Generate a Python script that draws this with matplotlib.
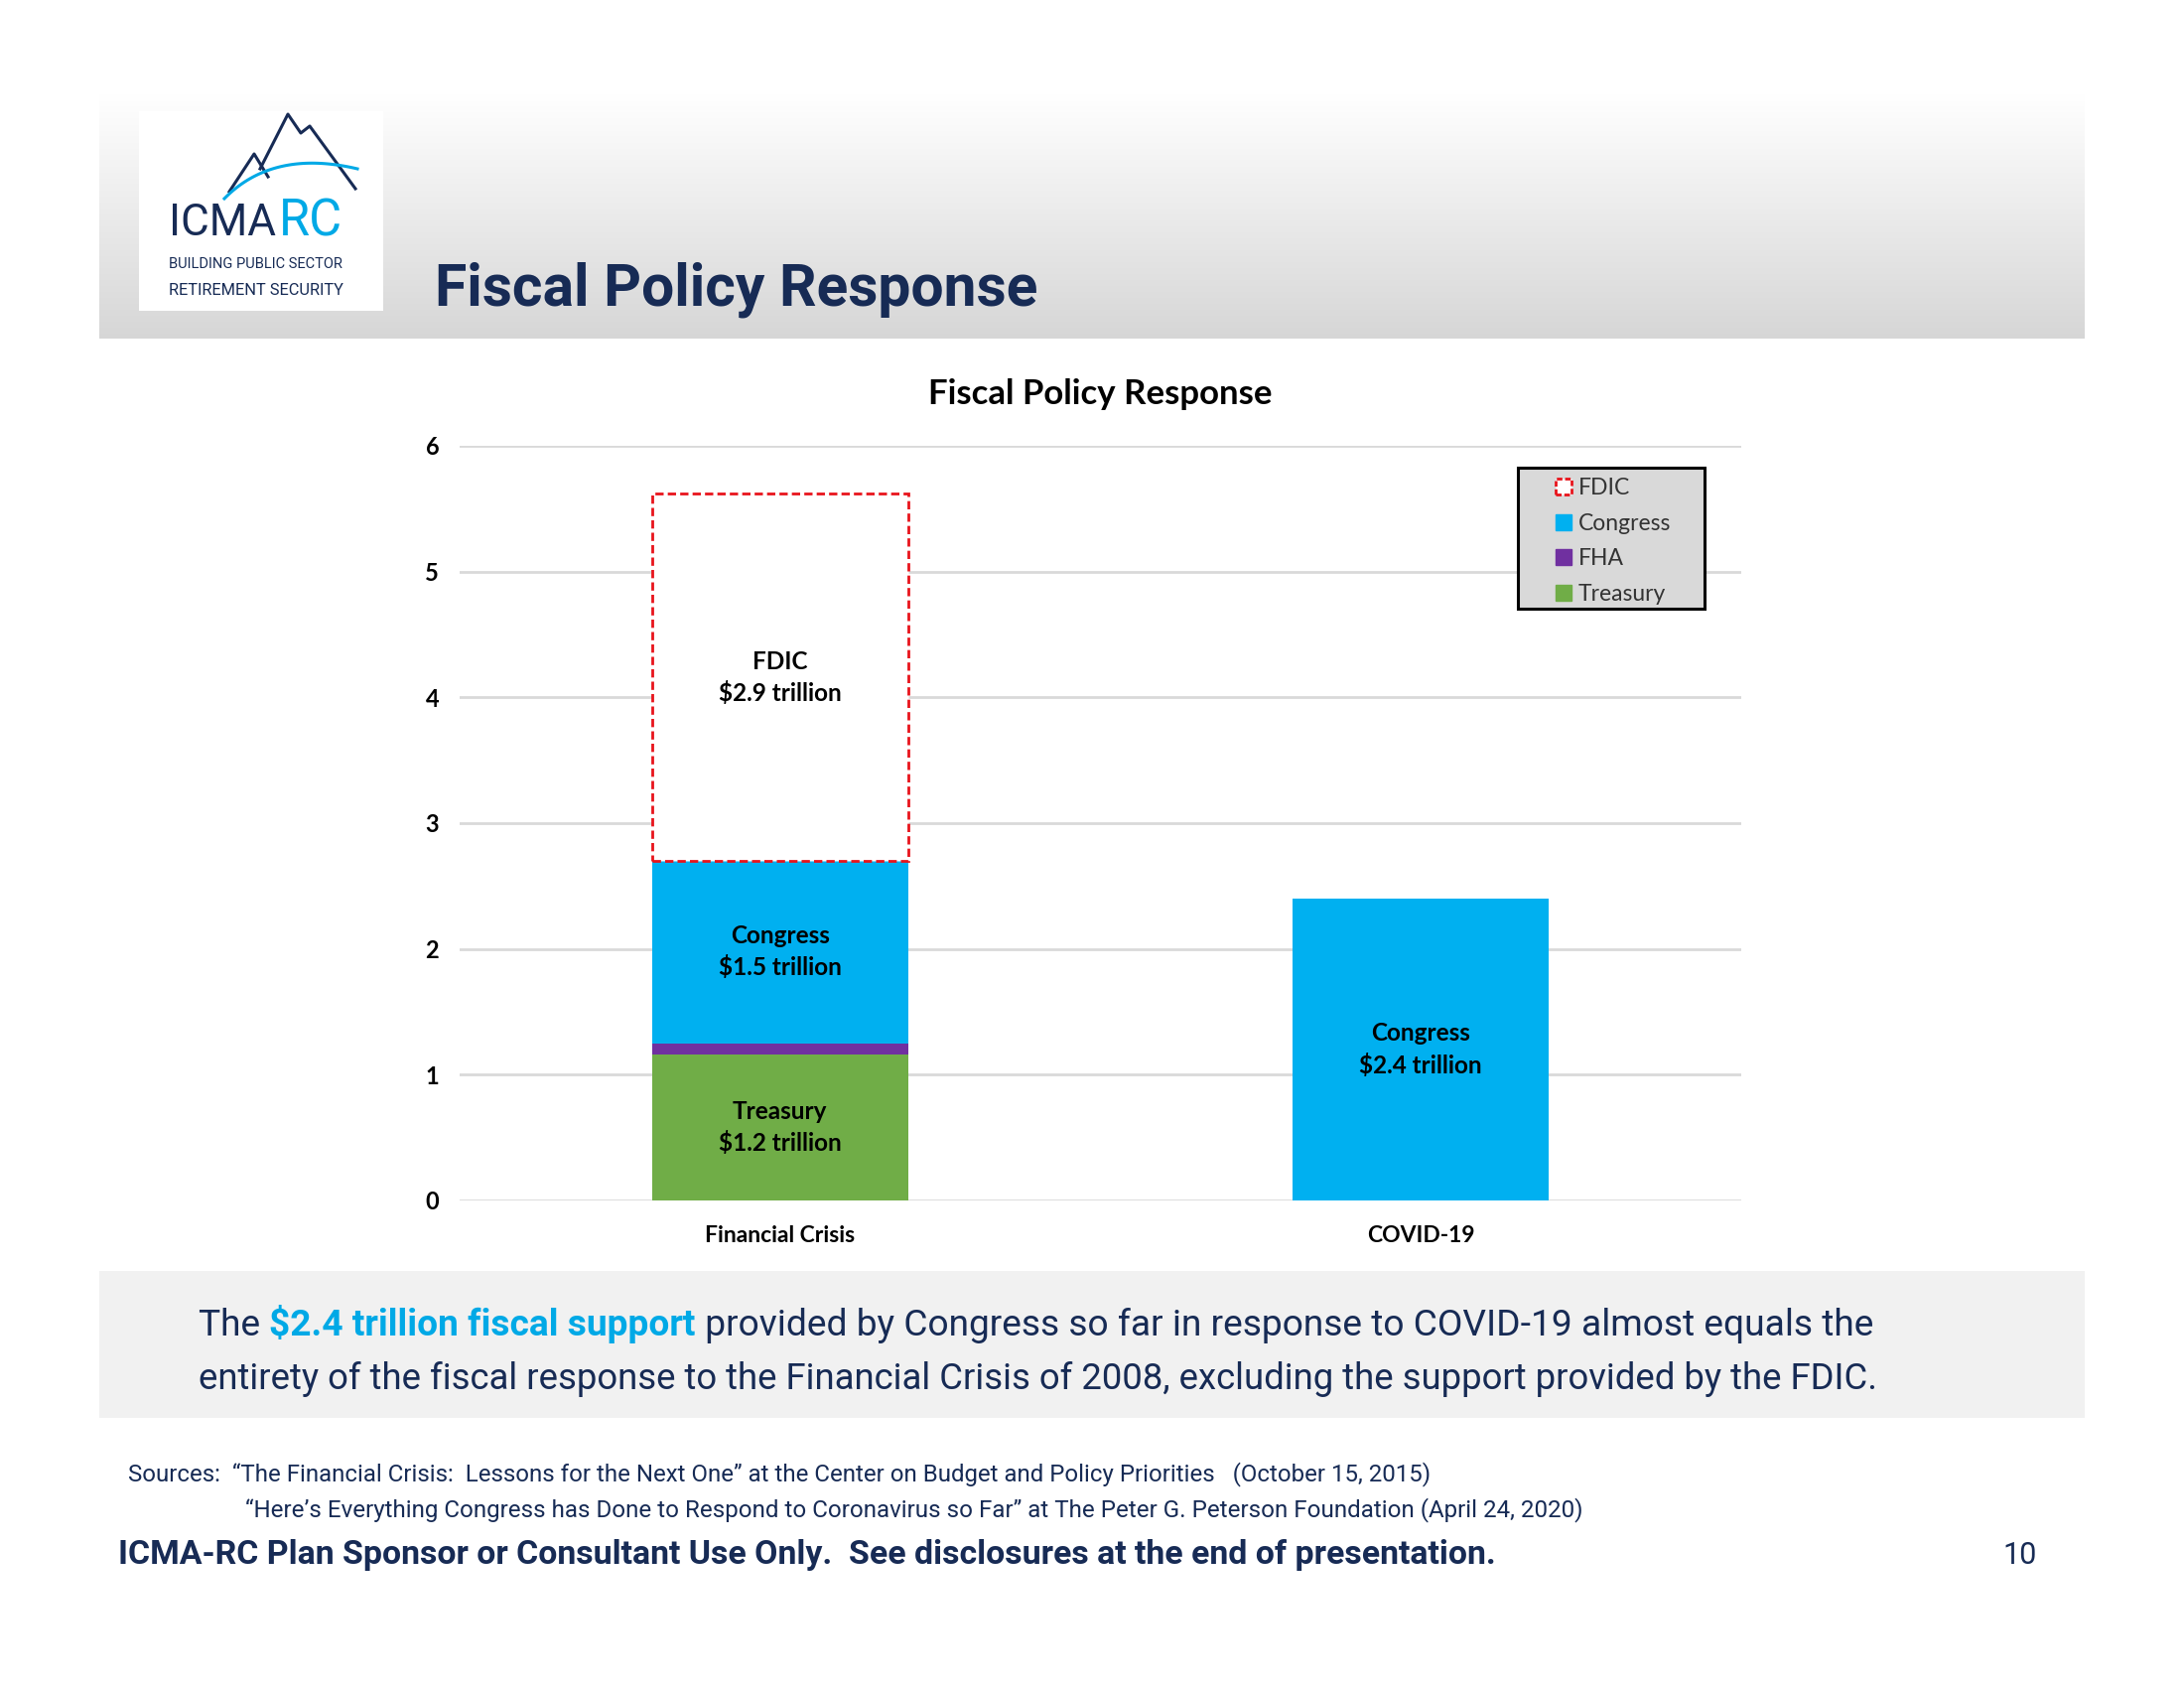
import numpy as np
import matplotlib
matplotlib.use("Agg")
import matplotlib.pyplot as plt
from matplotlib.patches import Patch, Rectangle

# chart data (trillions of dollars)
categories = ["Financial Crisis", "COVID-19"]
treasury = [1.16, 0.0]
fha = [0.09, 0.0]
congress = [1.45, 2.40]
fdic = [2.92, 0.0]
seg_labels = {
    "Treasury": ["Treasury\n$1.2 trillion", ""],
    "Congress": ["Congress\n$1.5 trillion", "Congress\n$2.4 trillion"],
    "FDIC": ["FDIC\n$2.9 trillion", ""],
}
yticks = [0, 1, 2, 3, 4, 5, 6]

NAVY = "#172b55"
BLUE = "#00a9e6"
SLIDE = ["Roboto", "DejaVu Sans"]
CHART = ["Lato", "DejaVu Sans"]

fig = plt.figure(figsize=(22, 17), dpi=100)
W, H = 2200, 1700
rend = fig.canvas.get_renderer()


def fit(t, width):
    # shrink/grow a text so it spans the given pixel width
    w = t.get_window_extent(rend).width
    t.set_fontsize(t.get_fontsize() * width / w)
    return t


# overlay axes in pixel coords for slide decoration
deco = fig.add_axes([0, 0, 1, 1], zorder=0)
deco.set_xlim(0, W); deco.set_ylim(H, 0); deco.axis("off")

grad = np.linspace(1.0, 0.84, 256).reshape(-1, 1)
deco.imshow(np.dstack([grad, grad, grad]), extent=(100, 2100, 341, 95), aspect="auto")
deco.add_patch(Rectangle((100, 1280), 2000, 148, color="#f1f1f1", lw=0))

# logo
deco.add_patch(Rectangle((140, 112), 246, 201, color="white", lw=0))
deco.plot([231, 256, 270], [193, 155, 178], color=NAVY, lw=2.2)
deco.plot([262, 290, 303, 312, 358], [170, 115, 134, 127, 190], color=NAVY, lw=2.2)
t = np.linspace(0, 1, 50)
sx = (1 - t) ** 2 * 226 + 2 * (1 - t) * t * 275 + t ** 2 * 360
sy = (1 - t) ** 2 * 200 + 2 * (1 - t) * t * 150 + t ** 2 * 170
deco.plot(sx, sy, color=BLUE, lw=2.2)
fit(deco.text(170, 237, "ICMA", color=NAVY, fontsize=30, family=SLIDE, va="baseline"), 108)
fit(deco.text(281, 237, "RC", color=BLUE, fontsize=30, family=SLIDE, va="baseline"), 64)
fit(deco.text(170, 270, "BUILDING PUBLIC SECTOR", color=NAVY, fontsize=12, family=SLIDE,
              va="baseline"), 175)
fit(deco.text(170, 297, "RETIREMENT SECURITY", color=NAVY, fontsize=12, family=SLIDE,
              va="baseline"), 175)

# slide title
fit(deco.text(438, 307, "Fiscal Policy Response", color=NAVY, fontsize=40, family=SLIDE,
              fontweight="bold", va="baseline"), 607)

# chart
ax = fig.add_axes([463 / W, 1 - 1209 / H, 1291 / W, 760 / H], zorder=2)
ax.patch.set_alpha(0)
x = np.arange(len(categories))
bw = 0.4
b1 = ax.bar(x, treasury, bw, color="#70ad47", zorder=3)
bot = np.array(treasury)
b2 = ax.bar(x, fha, bw, bottom=bot, color="#7030a0", zorder=3)
bot = bot + np.array(fha)
b3 = ax.bar(x, congress, bw, bottom=bot, color="#00b0f0", zorder=3)
bot = bot + np.array(congress)
b4 = ax.bar(x, fdic, bw, bottom=bot, facecolor="white", edgecolor="#e8141c",
            linestyle=(0, (3, 1.5)), lw=2, zorder=3)
for bars in (b1, b2, b3, b4):
    for r in bars:
        if r.get_height() == 0:
            r.set_visible(False)

for bars, name in [(b1, "Treasury"), (b3, "Congress"), (b4, "FDIC")]:
    for i, r in enumerate(bars):
        txt = seg_labels[name][i]
        if not txt:
            continue
        ax.text(r.get_x() + r.get_width() / 2, r.get_y() + r.get_height() / 2, txt,
                ha="center", va="center", fontsize=17.5, fontweight="bold", family=CHART,
                linespacing=1.4, zorder=4)

ax.set_xlim(-0.5, 1.5)
ax.set_ylim(0, 6)
ax.set_yticks(yticks)
ax.set_xticks(x)
ax.set_xticklabels(categories, fontsize=16.5, fontweight="bold", family=CHART)
for lb in ax.get_yticklabels():
    lb.set_fontsize(17); lb.set_fontweight("bold"); lb.set_family(CHART)
ax.tick_params(length=0, pad=15, axis="y")
ax.tick_params(length=0, pad=18, axis="x")
ax.grid(axis="y", color="#d9d9d9", lw=2, zorder=0)
for s in ax.spines.values():
    s.set_visible(False)
ax.set_title("Fiscal Policy Response", fontsize=25, fontweight="bold", family=CHART, pad=30)

# legend: grey box drawn separately so its padding can match the reference
ax.add_patch(Rectangle((1529 / W, 1 - 613 / H), 188 / W, 142 / H, transform=fig.transFigure,
                       facecolor="#d9d9d9", edgecolor="black", lw=2.2, clip_on=False, zorder=5))
handles = [
    Patch(facecolor="white", edgecolor="#e8141c", linestyle=(0, (2, 1)), lw=2, label="FDIC"),
    Patch(color="#00b0f0", label="Congress"),
    Patch(color="#7030a0", label="FHA"),
    Patch(color="#70ad47", label="Treasury"),
]
leg = ax.legend(handles=handles, loc="upper left", bbox_to_anchor=(1567 / W, 1 - 481 / H),
                bbox_transform=fig.transFigure, frameon=False,
                prop={"family": CHART, "size": 16.5},
                handlelength=0.7, handleheight=0.7, handletextpad=0.3, labelspacing=0.64,
                borderpad=0, borderaxespad=0)
leg.set_zorder(6)
for tx in leg.get_texts():
    tx.set_color("#333333")

# message text with highlighted span
parts = [("The ", NAVY, "normal"), ("$2.4 trillion fiscal support", BLUE, "bold"),
         (" provided by Congress so far in response to COVID-19 almost equals the", NAVY, "normal")]
line2 = "entirety of the fiscal response to the Financial Crisis of 2008, excluding the support provided by the FDIC."
probe = fig.text(0, 0, line2, fontsize=30, family=SLIDE)
fit(probe, 1688)
msize = probe.get_fontsize()
probe.remove()
# size line 1 so it spans the same width as line 2
w1 = 0
for s, c, wgt in parts:
    pt = fig.text(0, 0, s, fontsize=msize, family=SLIDE, fontweight=wgt)
    w1 += pt.get_window_extent(rend).width
    pt.remove()
msize1 = msize * 1687 / w1
xp = 200 / W
for s, c, wgt in parts:
    tt = fig.text(xp, 1 - 1345 / H, s, color=c, fontsize=msize1, family=SLIDE, fontweight=wgt,
                  va="baseline")
    xp = tt.get_window_extent(rend).x1 / W
fig.text(200 / W, 1 - 1399 / H, line2, color=NAVY, fontsize=msize, family=SLIDE, va="baseline")

# sources / footer
fit(fig.text(129 / W, 1 - 1491 / H,
             "Sources:  \u201cThe Financial Crisis:  Lessons for the Next One\u201d at the Center on Budget and Policy Priorities   (October 15, 2015)",
             color=NAVY, fontsize=18, family=SLIDE, va="baseline"), 1312)
fit(fig.text(247 / W, 1 - 1527 / H,
             "\u201cHere\u2019s Everything Congress has Done to Respond to Coronavirus so Far\u201d at The Peter G. Peterson Foundation (April 24, 2020)",
             color=NAVY, fontsize=18, family=SLIDE, va="baseline"), 1348)
fit(fig.text(119 / W, 1 - 1575 / H,
             "ICMA-RC Plan Sponsor or Consultant Use Only.  See disclosures at the end of presentation.",
             color=NAVY, fontsize=24, family=SLIDE, fontweight="bold", va="baseline"), 1393)
fig.text(2052 / W, 1 - 1575 / H, "10", color=NAVY, fontsize=22, family=SLIDE, va="baseline",
         ha="right")

fig.savefig("out.png", dpi=100, facecolor="white")
